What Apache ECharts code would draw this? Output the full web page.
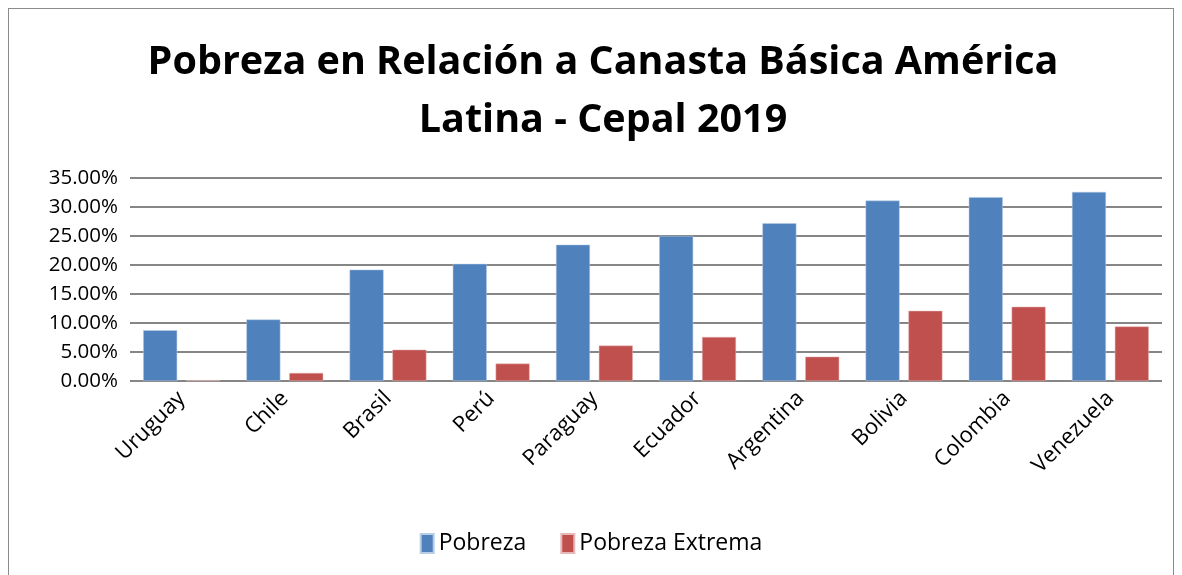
<!DOCTYPE html>
<html lang="es">
<head>
    <meta charset="UTF-8">
    <title>Pobreza en Relación a Canasta Básica</title>
    <script src="https://cdn.jsdelivr.net/npm/echarts@6/dist/echarts.min.js"></script>
    <style>
        html, body {
            margin: 0;
            padding: 0;
            background: #fff;
        }
        .frame {
            position: absolute;
            left: 8px;
            top: 8px;
            width: 1164px;
            height: 580px;
            border: 1px solid #8c8c8c;
        }
        #main {
            position: absolute;
            left: 0;
            top: 0;
            width: 1182px;
            height: 575px;
        }
    </style>
</head>
<body>
<div class="frame"></div>
<div id="main"></div>

<script>
    // datos
    const paises = ['Uruguay', 'Chile', 'Brasil', 'Perú', 'Paraguay', 'Ecuador', 'Argentina', 'Bolivia', 'Colombia', 'Venezuela'];
    const pobreza = [8.75, 10.6, 19.2, 20.2, 23.5, 25.0, 27.2, 31.1, 31.7, 32.6];
    const pobrezaExtrema = [0.1, 1.4, 5.4, 3.0, 6.1, 7.6, 4.2, 12.1, 12.8, 9.4];

    const chart = echarts.init(document.getElementById('main'));
    const fuente = 'Open Sans';

    const option = {
        backgroundColor: 'transparent',
        title: {
            text: 'Pobreza en Relación a Canasta Básica América\nLatina - Cepal 2019',
            left: 598,
            textAlign: 'center',
            top: 29,
            textStyle: {
                fontFamily: fuente,
                fontWeight: 'bold',
                fontSize: 39.5,
                lineHeight: 58,
                color: '#000'
            }
        },
        legend: {
            data: ['Pobreza', 'Pobreza Extrema'],
            bottom: 15,
            left: 'center',
            itemWidth: 13,
            itemHeight: 19,
            itemGap: 34,
            icon: 'rect',
            textStyle: { fontFamily: fuente, fontSize: 23, color: '#000' }
        },
        grid: {
            left: 130,
            right: 20,
            top: 178,
            bottom: 194
        },
        xAxis: {
            type: 'category',
            data: paises,
            axisLine: { show: false },
            axisTick: { show: false },
            axisLabel: {
                rotate: 45,
                interval: 0,
                fontFamily: fuente,
                fontSize: 22,
                color: '#000',
                margin: 14
            }
        },
        yAxis: {
            type: 'value',
            min: 0,
            max: 35,
            interval: 5,
            axisLine: { show: false },
            axisTick: { show: false },
            splitLine: { lineStyle: { color: '#868686', width: 2 } },
            axisLabel: {
                fontFamily: fuente,
                fontSize: 20.5,
                color: '#000',
                margin: 12,
                formatter: v => v.toFixed(2) + '%'
            }
        },
        series: [
            {
                name: 'Pobreza',
                type: 'bar',
                data: pobreza,
                barWidth: 34,
                barGap: '26%',
                itemStyle: { color: '#4F81BD', borderColor: '#b9cde5', borderWidth: 0.5 }
            },
            {
                name: 'Pobreza Extrema',
                type: 'bar',
                data: pobrezaExtrema,
                barWidth: 34,
                itemStyle: { color: '#C0504D', borderColor: '#e6b9b8', borderWidth: 0.5 }
            }
        ]
    };

    chart.setOption(option);
</script>
</body>
</html>
